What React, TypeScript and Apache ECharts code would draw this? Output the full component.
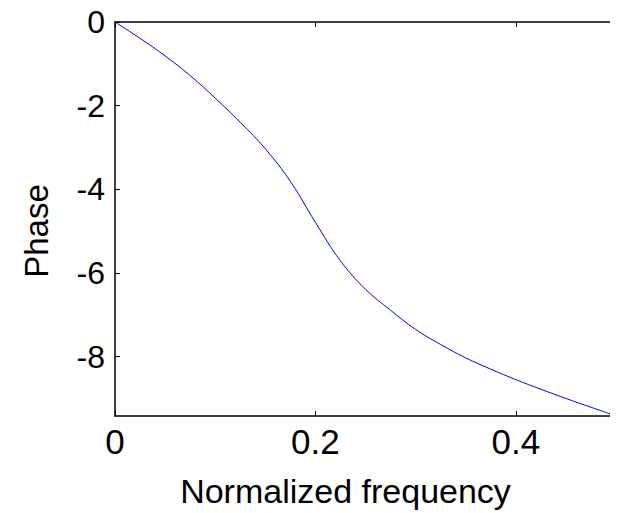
import React, { useEffect, useRef } from "react";
import * as echarts from "echarts";

const frequency = [0, 0.025, 0.05, 0.075, 0.1, 0.125, 0.15, 0.175, 0.2, 0.225, 0.25, 0.275, 0.3, 0.325, 0.35, 0.375, 0.4, 0.425, 0.45, 0.475, 0.5];
const phase = [0, -0.39, -0.81, -1.28, -1.82, -2.4, -3.03, -3.81, -4.79, -5.71, -6.39, -6.89, -7.35, -7.71, -8.03, -8.3, -8.55, -8.78, -9.0, -9.21, -9.42];
const xTicks = [0, 0.2, 0.4];
const yTicks = [-8, -6, -4, -2, 0];
const yMin = -9.42;
const yMax = 0;

const FONT = "Liberation Sans, Arial, sans-serif";

export default function App() {
  const ref = useRef<HTMLDivElement>(null);
  useEffect(() => {
    if (!ref.current) return;
    const chart = echarts.init(ref.current, null, { renderer: "svg" });
    const data = frequency.map((f, i) => [f, phase[i]]);
    const line = { show: true, onZero: false, lineStyle: { color: "#000", width: 1.5 } };
    const xTick = { show: true, inside: true, length: 5, customValues: xTicks, lineStyle: { color: "#000", width: 1 } };
    const yTick = { show: true, inside: true, length: 5, customValues: yTicks, lineStyle: { color: "#000", width: 1 } };
    chart.setOption({
      animation: false,
      backgroundColor: "#fff",
      grid: { left: 115, right: 2, top: 22, bottom: 95, containLabel: false },
      xAxis: [
        {
          type: "value",
          min: 0,
          max: 0.5,
          axisLine: line,
          axisTick: xTick,
          splitLine: { show: false },
          axisLabel: {
            show: true,
            customValues: xTicks,
            color: "#000",
            fontFamily: FONT,
            fontSize: 35,
            margin: 8,
          },
          name: "Normalized frequency",
          nameLocation: "middle",
          nameGap: 58,
          nameTextStyle: { color: "#000", fontFamily: FONT, fontSize: 34, padding: [0, 40, 0, 0] },
        },
        {
          type: "value",
          position: "top",
          min: 0,
          max: 0.5,
          axisLine: line,
          axisTick: xTick,
          axisLabel: { show: false },
          splitLine: { show: false },
        },
      ],
      yAxis: [
        {
          type: "value",
          min: yMin,
          max: yMax,
          axisLine: line,
          axisTick: yTick,
          splitLine: { show: false },
          axisLabel: {
            show: true,
            customValues: yTicks,
            color: "#000",
            fontFamily: FONT,
            fontSize: 32,
            margin: 10,
          },
          name: "Phase",
          nameLocation: "middle",
          nameGap: 62,
          nameTextStyle: { color: "#000", fontFamily: FONT, fontSize: 33, padding: [0, 24, 0, 0] },
        },
        {
          type: "value",
          position: "right",
          min: yMin,
          max: yMax,
          axisLine: line,
          axisTick: yTick,
          axisLabel: { show: false },
          splitLine: { show: false },
        },
      ],
      series: [
        {
          type: "line",
          data,
          smooth: 0.4,
          showSymbol: false,
          lineStyle: { color: "#0000ff", width: 1 },
          xAxisIndex: 0,
          yAxisIndex: 0,
        },
      ],
    });
    return () => chart.dispose();
  }, []);
  return <div ref={ref} style={{ width: 618, height: 513, margin: "-8px 0 0 -8px" }} />;
}
